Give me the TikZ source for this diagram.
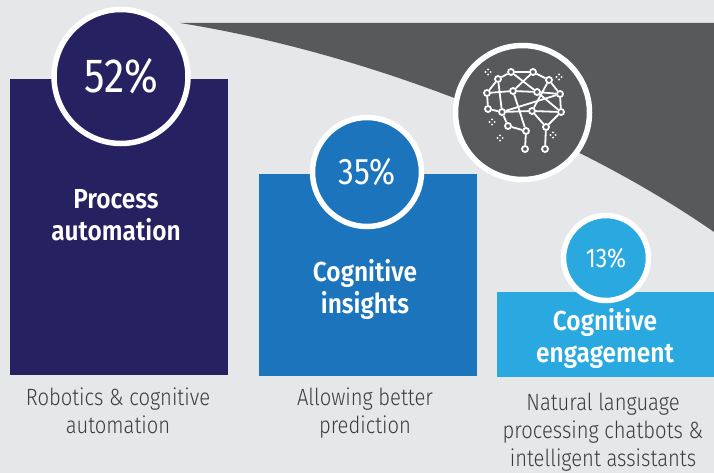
\documentclass[tikz,border=0pt]{standalone}
\usepackage{fontspec}
\setmainfont{Fira Sans}[FakeStretch=0.85]
\newfontfamily\lightfont{Fira Sans Light}[FakeStretch=0.86]
\newfontfamily\semifont{Fira Sans SemiBold}[FakeStretch=0.89]
\definecolor{bg}{HTML}{E6E7E8}
\definecolor{slate}{HTML}{58595B}
\definecolor{navy}{HTML}{262262}
\definecolor{midblue}{HTML}{1C75BC}
\definecolor{skyblue}{HTML}{29A9E0}
\definecolor{captxt}{HTML}{3C3C3E}
\tikzset{
  ring/.style={circle, draw=white, line width=5.5pt, inner sep=0pt, text=white},
  barlabel/.style={align=center, text=white, font=\semifont\fontsize{27.5}{32}\selectfont, inner sep=0pt},
  caption/.style={align=center, text=captxt, font=\lightfont\fontsize{23.5}{28}\selectfont, inner sep=0pt},
  bn/.style={circle, draw=white, fill=slate, line width=1.8pt, inner sep=0pt, minimum size=6pt},
  bl/.style={draw=white, line width=1.8pt}
}
\begin{document}
\begin{tikzpicture}[x=1pt,y=-1pt]
\useasboundingbox (0,0) rectangle (714,473);
\fill[bg] (0,0) rectangle (714,473);
% dark curved band
\fill[slate] (180,23) -- (714,23) -- (714,232) .. controls (560,125) and (350,50) .. (180,23) -- cycle;
% bars
\fill[navy] (10,79) rectangle (228,375);
\fill[midblue] (259,174) rectangle (477,376);
\fill[skyblue] (497,292) rectangle (714,377);
% circles
\node[ring, fill=navy, minimum size=134pt, font=\fontsize{48}{52}\selectfont] (c1) at (121,76.5) {52\%};
\node[ring, fill=midblue, minimum size=109pt, font=\fontsize{37}{40}\selectfont] (c2) at (367,172) {35\%};
\node[ring, fill=skyblue, minimum size=85pt, font=\fontsize{27}{30}\selectfont] (c3) at (606,258) {13\%};
\node[ring, fill=slate, minimum size=134pt] (c4) at (522.5,112.5) {};
% bar labels
\node[barlabel] (l1) at (116,215) {Process\\automation};
\node[barlabel] (l2) at (365,289) {Cognitive\\insights};
\node[barlabel] (l3) at (605,338) {Cognitive\\engagement};
% captions
\node[caption] (t1) at (118,411) {Robotics \& cognitive\\automation};
\node[caption] (t2) at (365,413) {Allowing better\\prediction};
\node[caption] (t3) at (603,432) {Natural language\\processing chatbots \&\\intelligent assistants};
% brain network
\node[bn] (n1) at (511,72) {};
\node[bn] (n2) at (533,72) {};
\node[bn] (n3) at (498,79) {};
\node[bn] (n4) at (549,80) {};
\node[bn] (n5) at (487,93) {};
\node[bn] (n6) at (513,91) {};
\node[bn] (n7) at (537,92) {};
\node[bn] (n8) at (560,94) {};
\node[bn] (n9) at (488,109) {};
\node[bn] (n10) at (502,112) {};
\node[bn] (n11) at (532,111) {};
\node[bn] (n12) at (561,112) {};
\node[bn] (n13) at (508,126) {};
\node[bn] (n14) at (526,131) {};
\node[bn] (n15) at (546,127) {};
\node[bn] (b1) at (525,149) {};
\node[bn] (b2) at (545,149) {};
\foreach \a/\b in {n1/n2,n1/n3,n2/n4,n3/n5,n4/n8,n5/n9,n8/n12,n5/n6,n6/n7,n7/n8,
  n1/n7,n2/n6,n3/n10,n6/n14,n8/n10,n4/n11,n7/n12,n11/n12,n9/n10,n10/n13,n13/n14,
  n11/n15,n15/n12,n14/b1,n15/b2,n10/n11}
  \draw[bl] (\a) -- (\b);
% sparkles
\foreach \sx/\sy in {488/72, 559/77, 492/122, 500/138, 553/135}{
  \foreach \dx/\dy in {2.6/0,-2.6/0,0/2.6,0/-2.6}
    \fill[white] (\sx+\dx,\sy+\dy) circle (1.1pt);
}
\end{tikzpicture}
\end{document}
